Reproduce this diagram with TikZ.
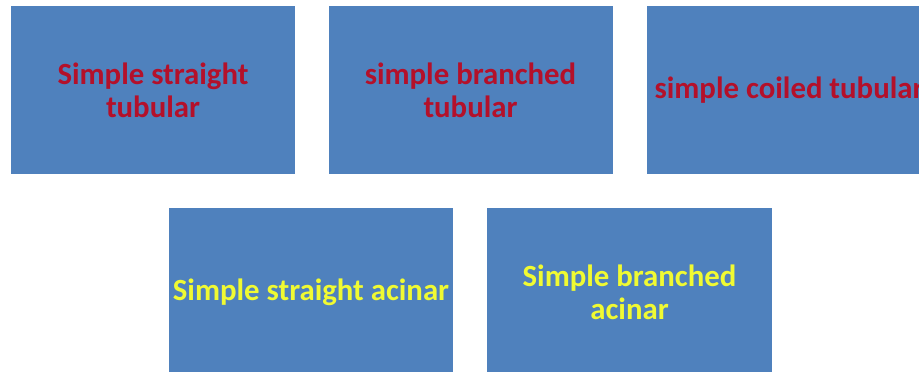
\documentclass[tikz,border=0pt]{standalone}
\usepackage{fontspec}
\setmainfont{Carlito}
\definecolor{boxblue}{RGB}{79,129,189}
\definecolor{labelred}{RGB}{180,16,42}
\definecolor{labelyellow}{RGB}{240,250,50}
\begin{document}
\begin{tikzpicture}[x=1pt,y=1pt,
  gland/.style={fill=boxblue, draw=none, inner sep=0pt, align=center,
    font=\fontsize{30.8}{33}\selectfont\bfseries},
  tubular/.style={gland, text=labelred},
  acinar/.style={gland, text=labelyellow}]
  \useasboundingbox (0,0) rectangle (919,372);
  \clip (0,0) rectangle (919,372);
  \fill[white] (0,0) rectangle (919,372);
  % top row: tubular glands
  \node[tubular, minimum width=284pt, minimum height=168pt] (sst) at (153,282) {Simple straight\\tubular};
  \node[tubular, minimum width=284pt, minimum height=168pt] (sbt) at (470.5,282) {simple branched\\tubular};
  \node[tubular, minimum width=284pt, minimum height=168pt] (sct) at (789,282) {simple coiled tubular};
  % bottom row: acinar glands
  \node[acinar, minimum width=284pt, minimum height=168pt] (ssa) at (311,80) {Simple straight acinar};
  \node[acinar, minimum width=285pt, minimum height=168pt] (sba) at (629.5,80) {Simple branched\\acinar};
\end{tikzpicture}
\end{document}
